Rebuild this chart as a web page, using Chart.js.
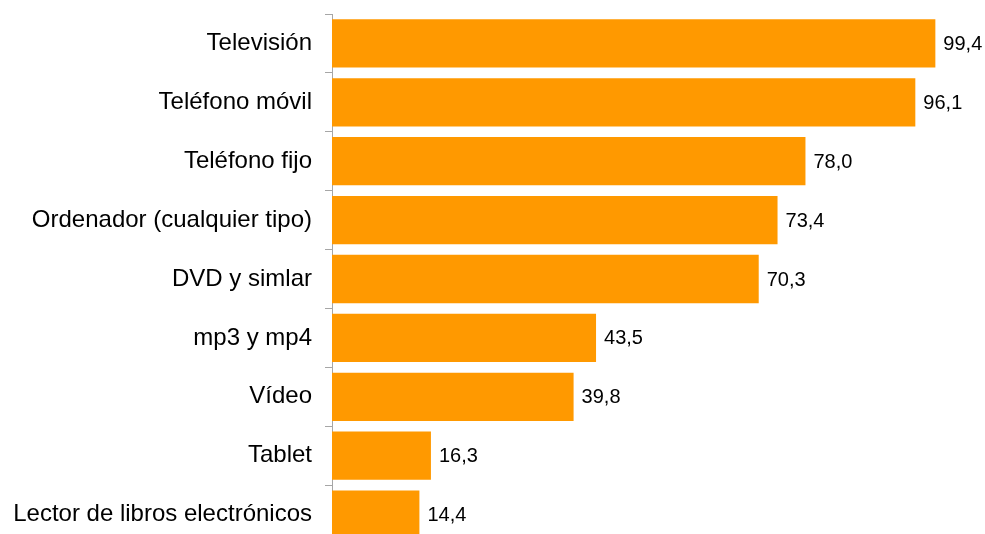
<!DOCTYPE html>
<html>
<head>
<meta charset="utf-8">
<script src="https://cdn.jsdelivr.net/npm/chart.js@4"></script>
<style>
  html, body { margin: 0; padding: 0; background: #fff; overflow: hidden; }
</style>
</head>
<body>
<canvas id="chart" width="985" height="544"></canvas>
<script>
const categories = ['Televisión', 'Teléfono móvil', 'Teléfono fijo', 'Ordenador (cualquier tipo)',
  'DVD y simlar', 'mp3 y mp4', 'Vídeo', 'Tablet', 'Lector de libros electrónicos'];
const values = [99.4, 96.1, 78.0, 73.4, 70.3, 43.5, 39.8, 16.3, 14.4];
const xMin = 0;
const xMax = 100;

// value labels to the right of each bar, with decimal comma
const valueLabels = {
  id: 'valueLabels',
  afterDatasetsDraw(chart) {
    const ctx = chart.ctx;
    const meta = chart.getDatasetMeta(0);
    ctx.save();
    ctx.font = '20px "Liberation Sans", Arial, sans-serif';
    ctx.fillStyle = '#000';
    ctx.textAlign = 'left';
    ctx.textBaseline = 'middle';
    meta.data.forEach((bar, i) => {
      ctx.fillText(values[i].toFixed(1).replace('.', ','), bar.x + 8, bar.y + 1);
    });
    ctx.restore();
  }
};

new Chart(document.getElementById('chart'), {
  type: 'bar',
  data: {
    labels: categories,
    datasets: [{
      data: values,
      backgroundColor: '#FF9900',
      borderWidth: 0,
      barPercentage: 0.82,
      categoryPercentage: 1
    }]
  },
  options: {
    indexAxis: 'y',
    responsive: false,
    animation: false,
    layout: { padding: { top: 14, right: 46, bottom: 0, left: 0 } },
    plugins: { legend: { display: false }, tooltip: { enabled: false } },
    scales: {
      x: { display: false, min: xMin, max: xMax },
      y: {
        afterFit(scale) {
          scale.width = 332;
          scale.paddingTop = 0;
          scale.paddingBottom = 0;
        },
        border: { display: true, color: '#A6A6A6', width: 1 },
        grid: { display: true, drawOnChartArea: false, drawTicks: true, tickLength: 7, color: '#A6A6A6', offset: true },
        ticks: {
          padding: 13,
          color: '#000',
          font: { family: '"Liberation Sans", Arial, sans-serif', size: 24 }
        }
      }
    }
  },
  plugins: [valueLabels]
});
</script>
</body>
</html>
